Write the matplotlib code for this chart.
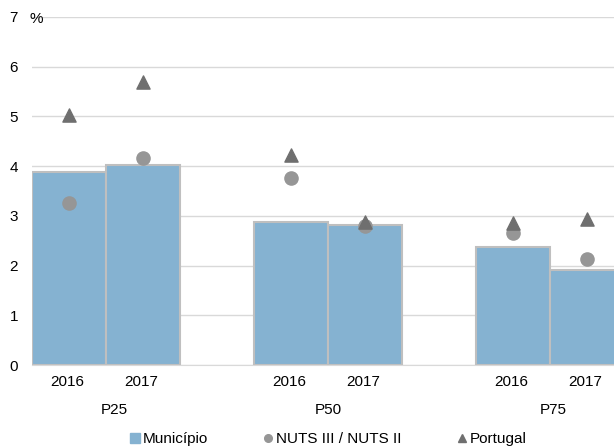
import numpy as np
import matplotlib.pyplot as plt
from matplotlib.lines import Line2D

plt.rcParams['font.family'] = ['Liberation Sans', 'DejaVu Sans']

groups = ["P25", "P50", "P75"]
years = ["2016", "2017"]
municipio = [3.88, 4.02, 2.88, 2.81, 2.38, 1.91]
nuts = [3.26, 4.16, 3.76, 2.80, 2.66, 2.13]
portugal = [5.03, 5.69, 4.23, 2.87, 2.86, 2.94]

# two bars per group, one empty slot between groups
pos = np.array([0, 1, 3, 4, 6, 7])

bar_color = "#85B2D1"
nuts_color = "#969696"
pt_color = "#6F6F6F"
fs = 11

fig = plt.figure(figsize=(6.14, 4.48), dpi=100)
ax = fig.add_axes([32 / 614, 83 / 448, 592 / 614, 348 / 448])

ax.bar(pos, municipio, width=1.0, color=bar_color, edgecolor="#BFBFBF",
       linewidth=1.5, zorder=2)
ax.scatter(pos, nuts, s=90, marker="o", color=nuts_color, zorder=3)
ax.scatter(pos, portugal, s=90, marker="^", color=pt_color, zorder=4)

ax.set_xlim(-0.5, 7.5)
ax.set_ylim(0, 7)
ax.set_yticks(range(8))
ax.grid(axis="y", color="#D9D9D9", linewidth=1, zorder=0)
ax.set_axisbelow(True)
for s in ["top", "right", "left"]:
    ax.spines[s].set_visible(False)
ax.spines["bottom"].set_color("#D9D9D9")
ax.tick_params(axis="both", length=0, labelsize=fs)
ax.tick_params(axis="y", pad=10)

ax.set_xticks(pos - 0.03)
ax.set_xticklabels(years * 3)
ax.tick_params(axis="x", pad=7)

group_x = [0.61, 3.51, 6.55]
for gx, g in zip(group_x, groups):
    ax.text(gx, -0.9, g, ha="center", va="center", fontsize=fs)

ax.text(-0.54, 6.96, "%", ha="left", va="center", fontsize=fs)

handles = [
    Line2D([], [], linestyle="none", marker="s", markersize=7, color=bar_color),
    Line2D([], [], linestyle="none", marker="o", markersize=5.5, color=nuts_color),
    Line2D([], [], linestyle="none", marker="^", markersize=5.5, color=pt_color),
]
labels = ["Município", "NUTS III / NUTS II", "Portugal"]
fig.legend(handles, labels, loc="center", bbox_to_anchor=(0.534, 0.02),
           ncol=3, frameon=False, fontsize=fs, handletextpad=0.15,
           columnspacing=3.6, handlelength=0.7, borderpad=0)

fig.savefig("out.png", dpi=100)
